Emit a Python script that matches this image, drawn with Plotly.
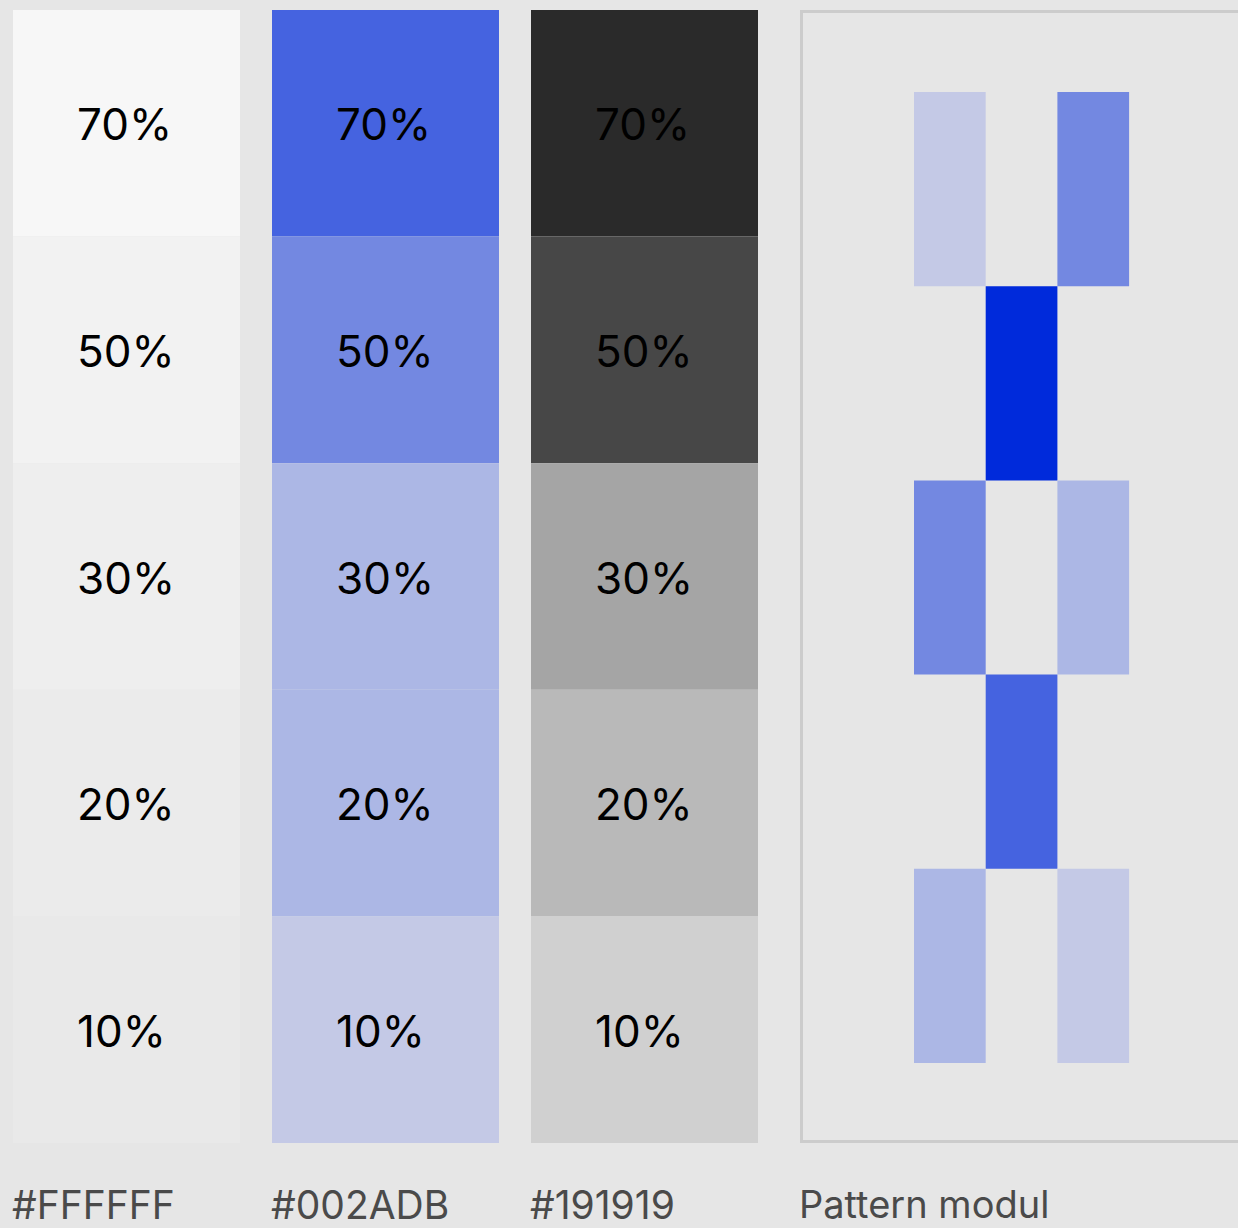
import plotly.graph_objects as go

levels = ["70%", "50%", "30%", "20%", "10%"]
swatch_names = ["#FFFFFF", "#002ADB", "#191919"]
white_tints = ["#F7F7F7", "#F2F2F2", "#EEEEEE", "#EBEBEB", "#E9E9E9"]
blue_tints = ["#4563E0", "#7388E1", "#ACB7E5", "#ACB7E5", "#C4C9E6"]
dark_tints = ["#2A2A2A", "#474747", "#A5A5A5", "#B9B9B9", "#D0D0D0"]
swatch_colors = [white_tints, blue_tints, dark_tints]

# pattern module: rows top->bottom, cols left->right, value = tint level (None = empty)
pattern = [
    [10, None, 50],
    [None, 100, None],
    [50, None, 30],
    [None, 70, None],
    [30, None, 10],
]
pattern_colors = {100: "#002ADB", 70: "#4563E0", 50: "#7388E1", 30: "#ACB7E5", 10: "#C4C9E6"}
pattern_label = "Pattern modul"

W, H = 1238, 1228
BG = "#E6E6E6"

# swatch geometry
col_left0, col_step, col_w = 13, 259, 227
row_top0, row_h = 10, 226.6
# pattern geometry
p_left0, p_w = 914, 71.7
p_top0, p_h = 92, 194.2

fig = go.Figure()
annotations = []

for i, (name, colors) in enumerate(zip(swatch_names, swatch_colors)):
    left = col_left0 + col_step * i
    fig.add_trace(go.Bar(
        x=[left + col_w / 2] * len(levels),
        y=[row_h] * len(levels),
        base=[row_top0 + row_h * j for j in range(len(levels))],
        width=col_w,
        marker=dict(color=colors, line=dict(width=0)),
        hoverinfo="skip",
        showlegend=False,
    ))
    for j, lev in enumerate(levels):
        annotations.append(dict(
            x=left + 62, y=row_top0 + row_h * (j + 0.5) + 1, text=lev,
            xanchor="left", yanchor="middle", showarrow=False,
            font=dict(family="Inter", size=44, color="#000000"),
        ))
    annotations.append(dict(
        x=left - 3, y=1204, text=name, xanchor="left", yanchor="middle",
        showarrow=False, font=dict(family="Inter", size=39, color="#4A4A4A"),
    ))

px_, pb, pc = [], [], []
for r, row in enumerate(pattern):
    for c, v in enumerate(row):
        if v is None:
            continue
        px_.append(p_left0 + p_w * (c + 0.5))
        pb.append(p_top0 + p_h * r)
        pc.append(pattern_colors[v])
fig.add_trace(go.Bar(
    x=px_, y=[p_h] * len(px_), base=pb, width=p_w,
    marker=dict(color=pc, line=dict(width=0)),
    hoverinfo="skip", showlegend=False,
))

annotations.append(dict(
    x=797, y=1204, text=pattern_label, xanchor="left", yanchor="middle",
    showarrow=False, font=dict(family="Inter", size=38, color="#4A4A4A"),
))

fig.add_shape(type="rect", x0=801.5, x1=1245, y0=11.5, y1=1141.5,
              line=dict(color="#CCCCCC", width=3), layer="below")

fig.update_layout(
    width=W, height=H,
    margin=dict(l=0, r=0, t=0, b=0),
    paper_bgcolor=BG, plot_bgcolor=BG,
    barmode="overlay",
    xaxis=dict(range=[0, W], visible=False, fixedrange=True),
    yaxis=dict(range=[H, 0], visible=False, fixedrange=True),
    annotations=annotations,
)

fig.write_html("out.html", config={"displayModeBar": False},
               post_script="document.body.style.margin='0';document.body.style.overflow='hidden';")
